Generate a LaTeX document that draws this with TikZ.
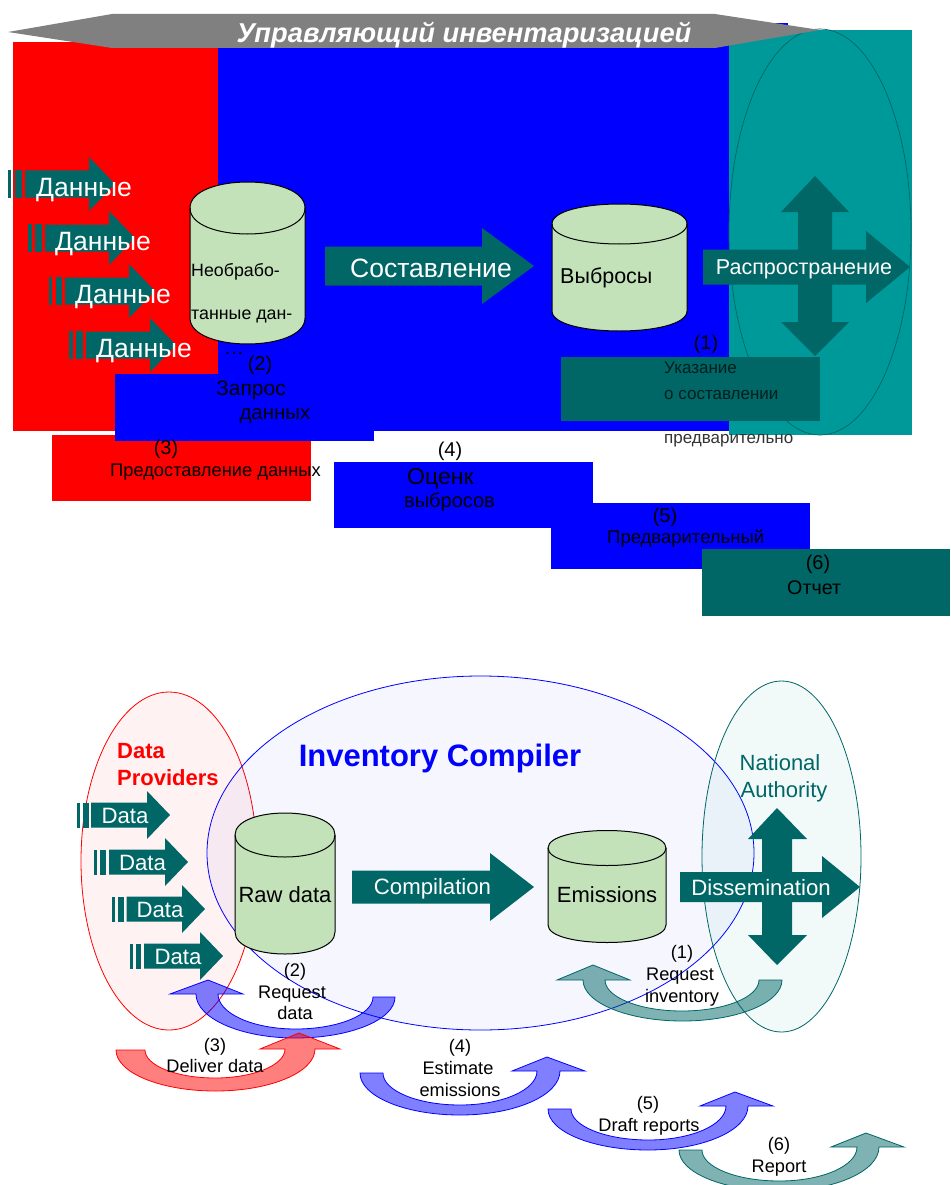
\documentclass[tikz,border=0pt]{standalone}
\usepackage{fontspec}
\setmainfont{Liberation Sans}
\definecolor{tealdark}{HTML}{006666}
\definecolor{tealmid}{HTML}{009999}
\definecolor{tealpale}{HTML}{00A08C}
\definecolor{cylgreen}{HTML}{C3E2BA}
\definecolor{hdrgray}{HTML}{808080}
\newcommand{\fsz}[1]{\fontsize{#1}{#1}\selectfont\rule{0pt}{.72em}\rule[-.2em]{0pt}{.2em}}
% block arrow: x0, head base x, tip x, centre y, shaft half height, head half height
\newcommand{\blockarrow}[6]{%
  \pgfmathsetmacro{\yA}{#4-#5}\pgfmathsetmacro{\yB}{#4+#5}%
  \pgfmathsetmacro{\yC}{#4-#6}\pgfmathsetmacro{\yD}{#4+#6}%
  \fill[tealdark] (#1,\yA) -- (#2,\yA) -- (#2,\yC) -- (#3,#4) -- (#2,\yD) -- (#2,\yB) -- (#1,\yB) -- cycle;}
% stripes: x1,x2,x3,x4, y centre, half height
\newcommand{\stripes}[6]{%
  \pgfmathsetmacro{\yA}{#5-#6}\pgfmathsetmacro{\yB}{#5+#6}%
  \fill[tealdark] (#1,\yA) rectangle (#2,\yB);
  \fill[tealdark] (#3,\yA) rectangle (#4,\yB);}
% cylinder: xl, xr, top-ellipse centre y, bottom-ellipse centre y, ry
\newcommand{\cylinder}[5]{%
  \pgfmathsetmacro{\cA}{#3-4/3*#5}\pgfmathsetmacro{\cB}{#3+4/3*#5}\pgfmathsetmacro{\cC}{#4+4/3*#5}%
  \draw[cylstyle] (#1,#3) .. controls (#1,\cA) and (#2,\cA) .. (#2,#3) -- (#2,#4)
     .. controls (#2,\cC) and (#1,\cC) .. (#1,#4) -- cycle;
  \draw[cylstyle,fill=none] (#1,#3) .. controls (#1,\cB) and (#2,\cB) .. (#2,#3);}
\tikzset{
  every node/.append style={yshift=-2pt},
  cylstyle/.style={draw=black,line width=1pt,fill=cylgreen},
  lab/.style={inner sep=0pt,text=black,font=\fsz{18.2}},
  toplab/.style={inner sep=0pt,text=black,font=\fsz{20}},
  wlab/.style={inner sep=0pt,text=white,font=\fsz{22.2}},
  dlab/.style={inner sep=0pt,text=white,font=\fsz{26.5}},
}
\begin{document}
\begin{tikzpicture}[x=1pt,y=-1pt]
\clip (0,0) rectangle (950,1185);
\fill[white] (0,0) rectangle (950,1185);
%% ---------- upper (Russian) panel ----------
\fill[blue] (218,23) rectangle (788,431);
\fill[red] (13,42) rectangle (218,431);
\fill[tealmid] (729,30) rectangle (912,435);
\draw[tealdark,line width=.7pt] (820,232) ellipse [x radius=91,y radius=203];
\fill[hdrgray] (8,32) -- (112,14) -- (715,14) -- (820,30) -- (715,48) -- (112,48) -- cycle;
\node[inner sep=0pt,text=white,font=\fsz{27.3}\bfseries\itshape] (hdr) at (464,33) {Управляющий инвентаризацией};
% data arrows
\stripes{8}{11}{15}{22}{184}{14}\blockarrow{25}{89}{115}{184}{13.5}{27}
\stripes{28}{32}{35}{42}{238}{14}\blockarrow{45}{109}{135}{238}{13.5}{27}
\stripes{49}{52}{56}{62}{291}{14}\blockarrow{65}{129}{155}{291}{13.5}{27}
\stripes{69}{73}{76}{83}{345}{14}\blockarrow{86}{150}{176}{345}{13.5}{27}
\cylinder{190}{305}{208}{318}{26}
\cylinder{552}{687}{224}{311}{20}
\node[dlab,anchor=west] (rd1) at (36,188) {Данные};
\node[dlab,anchor=west] (rd2) at (55,242) {Данные};
\node[dlab,anchor=west] (rd3) at (75,295) {Данные};
\node[dlab,anchor=west] (rd4) at (96,349) {Данные};
\node[inner sep=0pt,anchor=west,font=\fsz{17.8}] (rraw1) at (191,270) {Необрабо-};
\node[inner sep=0pt,anchor=west,font=\fsz{17.8}] (rraw2) at (191,313) {танные дан-};
\node[inner sep=0pt,anchor=west,font=\fsz{21.5}] (remis) at (560,276) {Выбросы};
\blockarrow{325}{482}{534}{266}{19.5}{38}
\node[inner sep=0pt,text=white,font=\fsz{26.5}] (rcomp) at (431,269) {Составление};
\fill[tealdark] (815,176) -- (849,212) -- (832,212) -- (832,322) -- (849,322) -- (815,356) -- (781,322) -- (798,322) -- (798,212) -- (781,212) -- cycle;
\blockarrow{703}{866}{910}{267}{17.5}{36}
\node[inner sep=0pt,text=white,font=\fsz{21.5}] (rdiss) at (804,267) {Распространение};
% coloured label boxes
\fill[red] (52,435) rectangle (311,501);
\fill[blue] (115,374) rectangle (374,441);
\fill[blue] (334,462) rectangle (593,528);
\fill[blue] (551,503) rectangle (810,569);
\fill[tealdark] (702,549) rectangle (950,616);
\fill[tealdark] (561,357) rectangle (820,421);
\node[inner sep=0pt,font=\fsz{20}] (rdots) at (234,347) {…};
\node[toplab] (r2) at (260,363) {(2)};
\node[toplab,font=\fsz{21}] (r2a) at (251,388) {Запрос};
\node[toplab,font=\fsz{20.5}] (r2b) at (275,412) {данных};
\node[toplab] (r3) at (166,447) {(3)};
\node[toplab,font=\fsz{18.3},anchor=west] (r3a) at (110,470) {Предоставление данных};
\node[toplab] (r4) at (450,449) {(4)};
\node[toplab,font=\fsz{23},anchor=west] (r4a) at (407,477) {Оценк};
\node[toplab,font=\fsz{20},anchor=west] (r4b) at (404,500) {выбросов};
\node[toplab] (r5) at (665,515) {(5)};
\node[toplab,font=\fsz{18.5},anchor=west] (r5a) at (607,537) {Предварительный};
\node[toplab] (r6) at (818,562) {(6)};
\node[toplab,font=\fsz{19.7},anchor=west] (r6a) at (787,587) {Отчет};
\node[toplab] (r1) at (706,342) {(1)};
\node[inner sep=0pt,anchor=west,font=\fsz{17},text=black!70!tealdark] (r1a) at (664,367) {Указание};
\node[inner sep=0pt,anchor=west,font=\fsz{17},text=black!70!tealdark] (r1b) at (664,393) {о составлении};
\node[inner sep=0pt,anchor=west,font=\fsz{17},text=black!80] (r1c) at (664,437) {предварительно};
%% ---------- lower (English) panel ----------
\draw[red,fill=red,fill opacity=.05,draw opacity=1,line width=.8pt] (169,861) ellipse [x radius=88,y radius=169];
\draw[blue,fill=blue,fill opacity=.035,draw opacity=1,line width=.8pt] (480.5,853) ellipse [x radius=273.5,y radius=177];
\draw[tealdark,fill=tealpale,fill opacity=.05,draw opacity=1,line width=.8pt] (781.5,856.5) ellipse [x radius=79.5,y radius=175.5];
\stripes{77}{80}{83}{89}{815}{12.5}\blockarrow{91}{147}{170}{815}{12.5}{24}
\stripes{94}{97}{100}{106}{862}{12.5}\blockarrow{109}{165}{188}{862}{12.5}{24}
\stripes{112}{115}{118}{124}{909}{12.5}\blockarrow{126.5}{182}{205}{909}{12.5}{24}
\stripes{130}{133}{136}{141}{956}{12.5}\blockarrow{144}{200}{223}{956}{12.5}{24}
\node[wlab] (d1) at (125,816) {Data};
\node[wlab] (d2) at (142.5,863) {Data};
\node[wlab] (d3) at (160,910) {Data};
\node[wlab] (d4) at (178,957) {Data};
\cylinder{235}{335}{835}{932}{22}
\cylinder{548}{666}{848}{925}{17.5}
\node[inner sep=0pt,font=\fsz{22}] (raw) at (285,895) {Raw data};
\node[inner sep=0pt,font=\fsz{22}] (emis) at (607,895) {Emissions};
\blockarrow{352}{490}{534}{887}{16.5}{34}
\node[wlab] (comp) at (432.5,887) {Compilation};
\fill[tealdark] (777,808) -- (807,839) -- (792,839) -- (792,935) -- (807,935) -- (777,965) -- (748,935) -- (762,935) -- (762,839) -- (748,839) -- cycle;
\blockarrow{680}{822}{860}{887}{15}{31}
\node[wlab] (diss) at (761,888) {Dissemination};
\node[inner sep=0pt,anchor=west,font=\fsz{22}\bfseries,text=red] (prov1) at (117,751) {Data};
\node[inner sep=0pt,anchor=west,font=\fsz{22}\bfseries,text=red] (prov2) at (117,778) {Providers};
\node[inner sep=0pt,font=\fsz{31}\bfseries,text=blue] (comptitle) at (440,756) {Inventory Compiler};
\node[inner sep=0pt,font=\fsz{22},text=tealdark] (nat1) at (780,763) {National};
\node[inner sep=0pt,font=\fsz{22},text=tealdark] (nat2) at (784,790) {Authority};
% curved arrows: colour / tip x,y / base y / head outer, inner x / shaft outer, inner x / tail inner, outer x / tail y / inner, outer bottom y
\foreach \c/\tx/\tyy/\by/\ho/\hi/\so/\si/\ti/\to/\tly/\ib/\ob in {
  tealdark/593/965/980/557/630/583/605/759/782/980/1011/1021,
  blue/208/980/994/170/243/196/218/373/395/997/1029/1038,
  red/299/1033/1049/340/260/315/285/145/116/1050/1078/1091,
  blue/547/1057/1071/585/512/560/537/383/360/1073/1105/1115,
  blue/735/1092/1106/773/700/748/726/571/548/1109/1140/1150,
  tealdark/866/1133/1147/904/831/879/857/702/679/1150/1181/1191}{
  \pgfmathsetmacro{\mi}{(\si+\ti)/2}
  \pgfmathsetmacro{\mo}{(\so+\to)/2}
  \pgfmathsetmacro{\ki}{.5523*(\ti-\si)/2}
  \pgfmathsetmacro{\ko}{.5523*(\to-\so)/2}
  \pgfmathsetmacro{\miA}{\mi-\ki}\pgfmathsetmacro{\miB}{\mi+\ki}
  \pgfmathsetmacro{\moA}{\mo-\ko}\pgfmathsetmacro{\moB}{\mo+\ko}
  \pgfmathsetmacro{\ciA}{\by+(\ib-\by)*.5523}
  \pgfmathsetmacro{\ciB}{\tly+(\ib-\tly)*.5523}
  \pgfmathsetmacro{\coA}{\by+(\ob-\by)*.5523}
  \pgfmathsetmacro{\coB}{\tly+(\ob-\tly)*.5523}
  \draw[draw=\c,fill=\c,fill opacity=.5,draw opacity=1,line width=.8pt,line join=miter]
    (\tx,\tyy) -- (\hi,\by) -- (\si,\by)
    .. controls (\si,\ciA) and (\miA,\ib) .. (\mi,\ib)
    .. controls (\miB,\ib) and (\ti,\ciB) .. (\ti,\tly)
    -- (\to,\tly)
    .. controls (\to,\coB) and (\moB,\ob) .. (\mo,\ob)
    .. controls (\moA,\ob) and (\so,\coA) .. (\so,\by)
    -- (\ho,\by) -- cycle;
}
\node[lab] (n1) at (682,952) {(1)};
\node[lab] (n1a) at (680,974) {Request};
\node[lab] (n1b) at (682,996) {inventory};
\node[lab] (n2) at (295,970) {(2)};
\node[lab] (n2a) at (292,992) {Request};
\node[lab] (n2b) at (295,1013) {data};
\node[lab] (n3) at (215,1045) {(3)};
\node[lab] (n3a) at (215,1066) {Deliver data};
\node[lab] (n4) at (460,1046) {(4)};
\node[lab] (n4a) at (458,1068) {Estimate};
\node[lab] (n4b) at (460,1090) {emissions};
\node[lab] (n5) at (648,1103) {(5)};
\node[lab] (n5a) at (649,1125) {Draft reports};
\node[lab] (n6) at (779,1144) {(6)};
\node[lab] (n6a) at (779,1166) {Report};
\end{tikzpicture}
\end{document}
